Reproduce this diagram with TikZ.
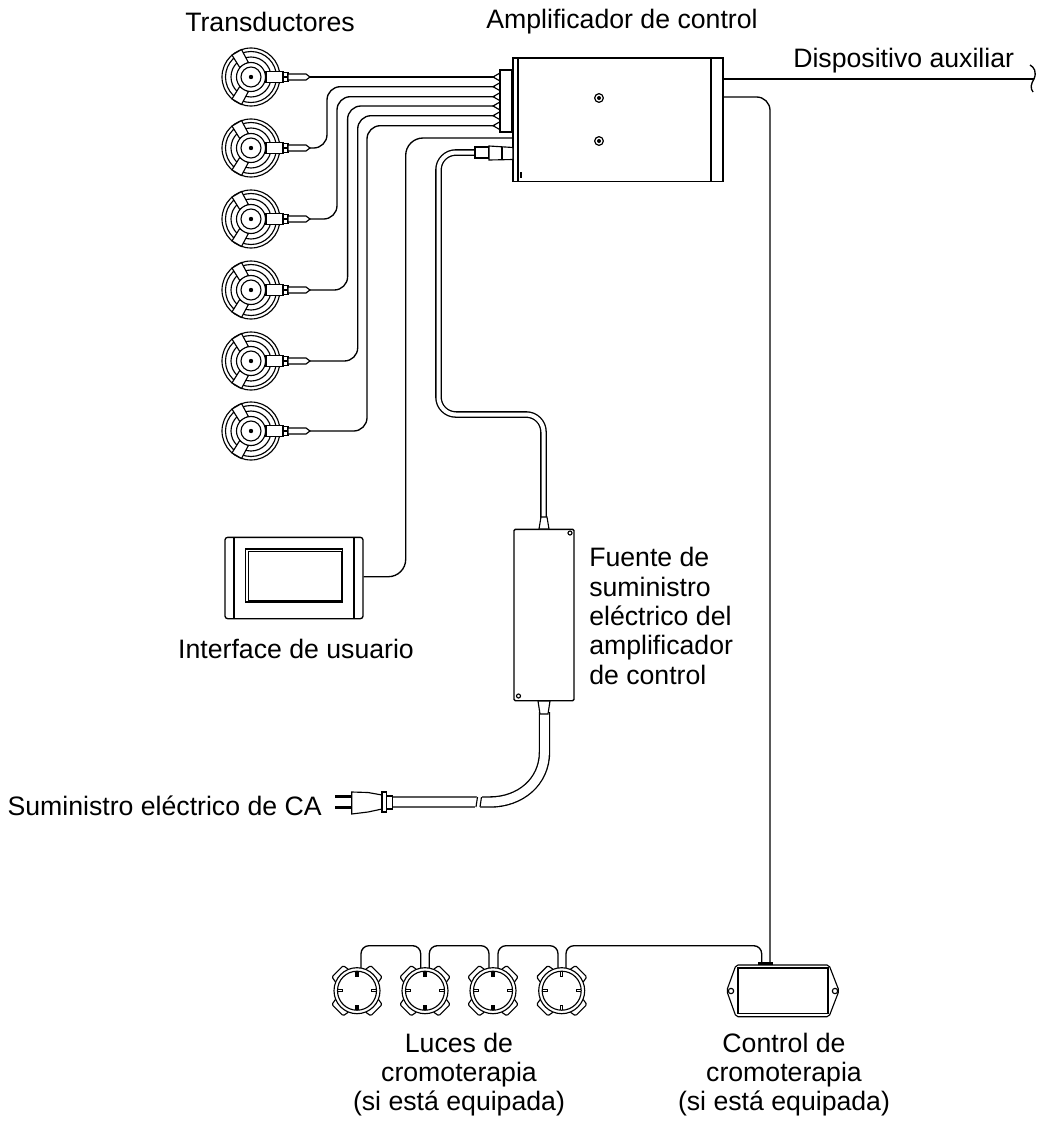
\documentclass[tikz,border=0pt]{standalone}
\usepackage{fontspec}
\setmainfont{Liberation Sans}
\usepackage{tikz}
\usetikzlibrary{arrows.meta,positioning,calc}
\tikzset{
    wire/.style={draw, line width=1pt, rounded corners=10pt},
    thin part/.style={draw, line width=0.85pt},
    lbl/.style={font=\fontsize{20}{22}\selectfont, align=center, inner sep=0pt},
    dot/.style={circle, draw, line width=0.9pt, minimum size=6.5pt, inner sep=0pt},
    transducer/.pic={
        \draw[thin part] (0,0) circle (29);
        \draw[thin part] (0,0) circle (25.5);
        \draw[thin part] (0,0) circle (20);
        \foreach \a in {120,240,0} {
            \begin{scope}[rotate=\a]
                \draw[thin part, fill=white] (14,-5) -- (28.5,-5.5) -- (28.5,5.5) -- (14,5) -- cycle;
            \end{scope}
        }
        \draw[thin part, fill=white] (0,0) circle (14.5);
        \draw[thin part] (0,0) circle (10);
        \fill (0,0) circle (2.2);
        \draw[thin part, fill=white] (15,-5.5) rectangle (32,5.5);
        \draw[thin part, fill=white] (32,-4.5) -- (37,-4.5) -- (37,-0.5) -- (32,-0.5) -- cycle;
        \draw[thin part, fill=white] (32,0.5) -- (37,0.5) -- (37,4.5) -- (32,4.5) -- cycle;
        \draw[thin part, fill=white] (37,-3) -- (55,-3) -- (59,0) -- (55,3) -- (37,3) -- cycle;
        \coordinate (-tip) at (59,0);
    },
    lamp/.pic={
        \foreach \a in {45,135,225,315} {
            \begin{scope}[rotate=\a]
                \draw[thin part, rounded corners=1pt] (-9,-21.5) -- (-8,-27.5) -- (8,-27.5) -- (9,-21.5);
            \end{scope}
        }
        \draw[thin part, fill=white] (0,0) circle (23);
        \draw[thin part] (0,0) circle (19.5);
        \foreach \a in {0,90,180,270} {
            \begin{scope}[rotate=\a]
                \draw[thin part] (-1,-19.5) -- (-1,-14.5) -- (1,-14.5) -- (1,-19.5);
            \end{scope}
        }
    }
}
\begin{document}
\begin{tikzpicture}[x=0.75pt, y=-0.75pt]
    \useasboundingbox (0,0) rectangle (1037,1125);
    % transductores
    \foreach \n/\y in {1/77,2/148,3/219,4/290,5/361,6/431} {
        \pic (tr\n) at (251,\y) {transducer};
    }
    % amplificador
    \node[draw, line width=1pt, minimum width=157.5pt, minimum height=92.5pt, inner sep=0pt] (amp) at (618,119.5) {};
    \draw[thin part] (518,58) -- (518,181);
    \draw[thin part] (711,58) -- (711,181);
    \node[draw, line width=1pt, minimum width=9pt, minimum height=46.5pt, inner sep=0pt] (jack) at (506,101) {};
    \foreach \n/\y in {1/77,2/86.7,3/96.7,4/106,5/115.7,6/125.7} {
        \draw[thin part] (500,\y-4) -- (493,\y) -- (500,\y+4);
        \coordinate (in\n) at (495,\y);
    }
    \node[dot] (screwa) at (599,98) {};
    \node[dot] (screwb) at (599,141) {};
    \fill (599,98) circle (2);
    \fill (599,141) circle (2);
    \draw[thin part] (521,172) -- (521,178);
    % cables de transductores
    \draw[wire] (tr1-tip) -- (in1);
    \draw[wire] (tr2-tip) -- (327,148) -- (327,86.7) -- (in2);
    \draw[wire] (tr3-tip) -- (337,219) -- (337,96.7) -- (in3);
    \draw[wire] (tr4-tip) -- (347.6,290) -- (347.6,106) -- (in4);
    \draw[wire] (tr5-tip) -- (357.7,361) -- (357.7,115.7) -- (in5);
    \draw[wire] (tr6-tip) -- (367,431) -- (367,125.7) -- (in6);
    % interface
    \node[draw, rounded corners=2pt, line width=1pt, minimum width=103.5pt, minimum height=61pt, inner sep=0pt] (ui) at (294,578) {};
    \draw[thin part] (234,537) -- (234,618.5);
    \draw[thin part] (354,537) -- (354,618.5);
    \draw[line width=1pt] (245.7,549) rectangle (342.7,602);
    \draw[line width=0.6pt] (248,551) rectangle (341,600.5);
    \coordinate (uiport) at (513,138);
    \draw[wire, rounded corners=13pt] (ui.east |- 0,576.7) -- (405.7,576.7) -- (405.7,138) -- (uiport);
    % fuente
    \node[draw, rounded corners=1pt, line width=1pt, minimum width=45pt, minimum height=128.5pt, inner sep=0pt] (psu) at (544,615) {};
    \node[circle, draw, line width=0.85pt, minimum size=3pt, inner sep=0pt] (psua) at (570,533) {};
    \node[circle, draw, line width=0.85pt, minimum size=3pt, inner sep=0pt] (psub) at (518.5,696) {};
    % cable doble de la fuente
    \draw[line width=5pt, rounded corners=13pt] (475,152.5) -- (438.5,152.5) -- (438.5,414.5) -- (543.5,414.5) -- (543.5,520);
    \draw[line width=3pt, white, rounded corners=13pt] (476,152.5) -- (438.5,152.5) -- (438.5,414.5) -- (543.5,414.5) -- (543.5,520);
    \draw[thin part, fill=white] (475,147) rectangle (489,158);
    \draw[thin part, fill=white] (489,146) -- (513,147.5) -- (513,159.5) -- (489,160) -- cycle;
    \draw[thin part] (502,147) -- (502,160);
    \draw[thin part, fill=white] (541,517) -- (547,517) -- (549,529) -- (539,529) -- cycle;
    % cable de CA
    \draw[line width=8.6pt] (544.5,712) -- (544.5,752) .. controls (544.5,782) and (520,802) .. (490,802) -- (392,802);
    \draw[line width=6.6pt, white] (544.5,712) -- (544.5,752) .. controls (544.5,782) and (520,802) .. (490,802) -- (392,802);
    \fill[white] (477,796) -- (482,796) -- (480,808) -- (475,808) -- cycle;
    \draw[thin part] (477.5,797) -- (476,807);
    \draw[thin part] (481.5,797) -- (480,807);
    \draw[thin part, fill=white] (538,701) -- (550,701) -- (548,714) -- (540,714) -- cycle;
    % clavija
    \draw[line width=2pt] (335,796.7) -- (352,796.7);
    \draw[line width=2pt] (335,807.7) -- (352,807.7);
    \draw[thin part, fill=white] (351.7,792) -- (368,792.5) -- (382,795) -- (382,809) -- (368,812) -- (351.7,814) -- cycle;
    \draw[thin part, fill=white] (382,792) rectangle (386.7,812);
    \draw[thin part, fill=white] (386.7,796) rectangle (392.7,809);
    % dispositivo auxiliar
    \coordinate (auxend) at (1034,79);
    \draw[line width=1pt] (723,79) -- (auxend);
    \draw[line width=1pt] (1030,65) .. controls (1034,67) and (1037,72) .. (1034,79) .. controls (1031,84) and (1030,88) .. (1033,92);
    % control de cromoterapia
    \draw[thin part, rounded corners=1.5pt] (736,965) -- (829,965) -- (839,990.7) -- (829,1016.7) -- (736,1016.7) -- (726.7,990.7) -- cycle;
    \node[draw, line width=1pt, minimum width=67.5pt, minimum height=34pt, inner sep=0pt] (ctrl) at (783,990.5) {};
    \node[circle, draw, line width=0.85pt, minimum size=4pt, inner sep=0pt] (ctrla) at (731,991) {};
    \node[circle, draw, line width=0.85pt, minimum size=4pt, inner sep=0pt] (ctrlb) at (835,991) {};
    \draw[wire] (723,97) -- (770,97) -- (770,964);
    \fill (758,962) rectangle (773,965);
    % luces
    \foreach \n/\x in {1/357,2/425,3/493,4/561.7} {
        \pic (lamp\n) at (\x,990.7) {lamp};
    }
    \draw[wire, rounded corners=6pt] (361,968) -- (361,945.7) -- (420.7,945.7) -- (420.7,968);
    \draw[wire, rounded corners=6pt] (429.3,968) -- (429.3,945.7) -- (489,945.7) -- (489,968);
    \draw[wire, rounded corners=6pt] (498,968) -- (498,945.7) -- (558,945.7) -- (558,968);
    \draw[wire, rounded corners=6pt] (566,968) -- (566,945.7) -- (761.7,945.7) -- (761.7,962);
    % textos
    \node[lbl] (ttrans) at (270,22) {Transductores};
    \node[lbl] (tamp) at (622,22) {Amplificador de control};
    \node[lbl, anchor=west] (taux) at (793,61) {Dispositivo auxiliar};
    \node[lbl] (tui) at (296,649) {Interface de usuario};
    \node[lbl, anchor=west, align=left] (tpsu) at (589,616) {Fuente de\\suministro\\eléctrico del\\amplificador\\de control};
    \node[lbl, anchor=east] (tca) at (322,806) {Suministro eléctrico de CA};
    \node[lbl] (tluces) at (459,1074.5) {Luces de\\cromoterapia\\(si está equipada)};
    \node[lbl] (tctrl) at (784,1074.5) {Control de\\cromoterapia\\(si está equipada)};
\end{tikzpicture}
\end{document}
